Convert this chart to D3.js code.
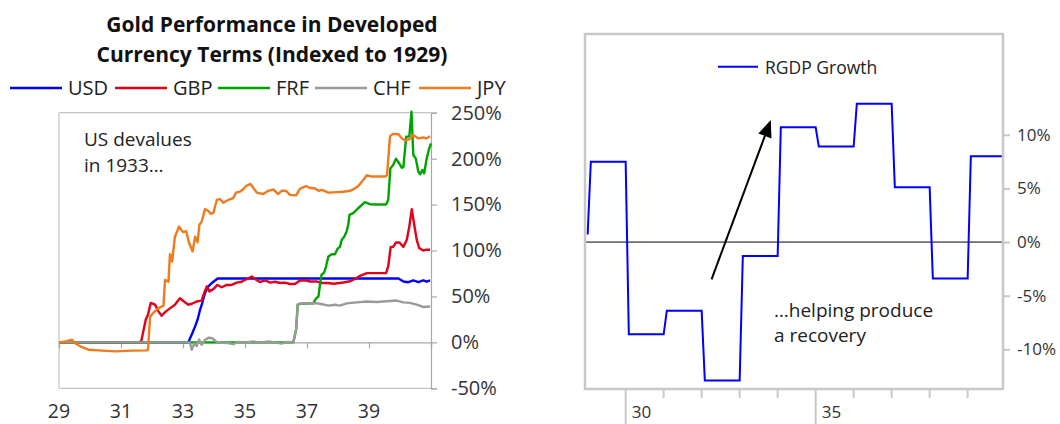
<!DOCTYPE html>
<html>
<head>
<meta charset="utf-8">
<script src="https://cdn.jsdelivr.net/npm/d3@7"></script>
<style>
  body { margin: 0; background: #fff; }
  svg { display: block; font-family: "Open Sans", sans-serif; }
</style>
</head>
<body>
<svg id="chart" width="1060" height="424"></svg>
<script>
// ---------- Gold priced in each currency, % change vs 1929 ([year, %]) ----------
const usd = [[1929.00,0],[1933.17,0],[1933.30,10],[1933.39,17.4],[1933.47,24.7],[1933.55,35.5],[1933.62,42.8],[1933.71,53.7],[1933.82,61],[1933.95,65.2],[1934.12,69.5],[1939.95,69.5],[1940.11,66.3],[1940.27,65.5],[1940.43,67.4],[1940.59,65.5],[1940.75,67.4],[1940.86,66],[1940.97,67.4]];

const gbp = [[1929.00,0],[1931.61,0],[1931.66,2],[1931.72,12],[1931.80,25],[1931.87,30],[1931.96,43],[1932.10,41],[1932.20,34],[1932.31,29],[1932.44,33.5],[1932.58,37],[1932.74,41],[1932.90,48],[1933.01,45],[1933.17,41],[1933.29,42],[1933.44,44.5],[1933.60,45.5],[1933.68,53.5],[1933.77,61],[1933.85,55.5],[1933.98,58],[1934.11,62.5],[1934.25,60],[1934.41,62.5],[1934.57,62.5],[1934.73,65],[1934.89,66],[1935.06,69],[1935.22,71.7],[1935.32,69],[1935.48,65.7],[1935.65,67.4],[1935.81,65],[1935.97,66],[1936.13,64.6],[1936.29,65],[1936.45,63.5],[1936.61,63.5],[1936.77,67.4],[1936.94,67.5],[1937.10,66.3],[1937.31,66.3],[1937.47,64.6],[1937.69,64.6],[1937.85,63.8],[1938.17,65.2],[1938.39,66.5],[1938.55,69],[1938.71,72.5],[1938.93,75.4],[1939.25,75.4],[1939.55,75.4],[1939.62,82.6],[1939.70,104],[1939.78,104],[1939.87,108.7],[1939.98,108.7],[1940.11,104],[1940.22,111.6],[1940.30,126],[1940.38,145],[1940.45,130],[1940.54,111.6],[1940.62,102.6],[1940.75,100],[1940.86,101],[1940.97,100.8]];

const frf = [[1929.00,0],[1936.56,0],[1936.65,14],[1936.70,41],[1936.77,42],[1937.20,42.5],[1937.29,47.5],[1937.37,50],[1937.42,63],[1937.47,73.6],[1937.55,76],[1937.61,82],[1937.69,93.5],[1937.80,96],[1937.90,96],[1937.99,102],[1938.06,104],[1938.12,111.6],[1938.20,115],[1938.28,121],[1938.33,128],[1938.37,138.8],[1938.49,140.6],[1938.65,146],[1938.87,152.6],[1939.03,150.4],[1939.29,150],[1939.55,150],[1939.62,155],[1939.69,189.6],[1939.78,193],[1939.87,200],[1939.97,195],[1940.06,190],[1940.11,191],[1940.20,224],[1940.30,224],[1940.37,251],[1940.43,204],[1940.51,200],[1940.59,186],[1940.65,183],[1940.72,187.7],[1940.78,184],[1940.86,200],[1940.94,211],[1941.00,216.7]];

const chf = [[1929.00,0],[1933.16,0],[1933.23,-1],[1933.28,-8],[1933.37,-1],[1933.44,-4],[1933.52,3],[1933.60,-2.5],[1933.71,2.5],[1933.82,5],[1933.94,4.5],[1934.09,0.5],[1934.26,-0.5],[1934.46,-0.7],[1934.62,-2],[1934.77,0.5],[1935.00,0],[1935.27,1],[1935.48,-0.5],[1935.75,1],[1935.97,0],[1936.18,-1.4],[1936.35,0.5],[1936.56,0],[1936.65,14],[1936.70,41],[1936.77,42],[1937.20,42.8],[1937.42,42],[1937.69,40],[1937.90,41],[1938.06,40],[1938.28,42.5],[1938.60,43.5],[1938.93,44.5],[1939.25,44],[1939.57,44.8],[1939.89,45.5],[1940.11,43.5],[1940.32,43],[1940.54,41],[1940.75,38.5],[1940.97,39]];

const jpy = [[1929.00,0],[1929.23,1],[1929.41,3],[1929.54,-1.5],[1929.73,-5],[1929.95,-8],[1930.27,-8.7],[1930.81,-9.8],[1931.35,-9],[1931.83,-8.7],[1931.87,-8],[1931.94,28],[1932.04,32],[1932.20,37],[1932.37,40],[1932.42,68],[1932.53,66],[1932.58,96],[1932.65,88],[1932.74,115],[1932.87,126],[1933.00,120],[1933.10,121],[1933.20,108],[1933.31,99],[1933.39,115],[1933.47,109],[1933.53,128],[1933.60,131],[1933.71,145],[1933.82,143],[1933.89,140],[1933.98,141],[1934.09,155],[1934.19,156],[1934.30,152],[1934.46,155],[1934.62,157],[1934.71,163],[1934.84,164],[1934.95,167],[1935.03,170],[1935.18,172.5],[1935.27,168],[1935.38,163],[1935.59,161.5],[1935.75,165],[1935.91,166.5],[1936.07,161.5],[1936.18,165],[1936.32,165],[1936.45,160.5],[1936.65,160],[1936.77,167],[1936.97,170],[1937.10,168],[1937.26,167.5],[1937.37,165],[1937.48,166],[1937.69,163],[1937.96,163.5],[1938.17,164],[1938.39,165],[1938.49,166.5],[1938.65,170],[1938.82,177],[1938.93,182],[1939.09,180.5],[1939.52,180.5],[1939.58,182],[1939.68,224.5],[1939.78,227],[1939.95,226.5],[1940.06,222],[1940.16,220],[1940.30,221],[1940.43,225.8],[1940.59,222],[1940.75,223],[1940.86,222],[1940.97,224.5]];

const currencyNames = ["USD", "GBP", "FRF", "CHF", "JPY"];
const currencyColors = ["#0000ff", "#e2001a", "#00a300", "#9a9a9a", "#f07a1e"];
const currencySeries = [usd, gbp, frf, chf, jpy];

const goldYTicks = [-50, 0, 50, 100, 150, 200, 250];
const goldXTicks = [1929, 1931, 1933, 1935, 1937, 1939];

// ---------- US real GDP growth, % per calendar year ----------
const gdpYears  = [1928, 1929, 1930, 1931, 1932, 1933, 1934, 1935, 1936, 1937, 1938, 1939];
const gdpGrowth = [0.7, 7.5, -8.6, -6.4, -12.9, -1.3, 10.7, 8.9, 12.9, 5.1, -3.4, 8.0];
const gdpYTicks = [-10, -5, 0, 5, 10];
const gdpXTicks = [1930, 1931, 1932, 1933, 1934, 1935, 1936, 1937, 1938, 1939];
const gdpXLabels = [1930, 1935];

const svg = d3.select("#chart");
svg.append("rect").attr("width", 1060).attr("height", 424).attr("fill", "#fff");

// ================= Left panel: gold in currencies =================
const L = { left: 59, right: 431, top: 112.7, bottom: 388.3 };
const x1 = d3.scaleLinear().domain([1929, 1941]).range([L.left, L.right]);
const y1 = d3.scaleLinear().domain([-50, 250]).range([L.bottom, L.top]);

const title = svg.append("text")
  .attr("text-anchor", "middle").attr("font-weight", 700).attr("font-size", 21)
  .attr("fill", "#111");
title.append("tspan").attr("x", 272).attr("y", 32).text("Gold Performance in Developed");
title.append("tspan").attr("x", 272).attr("y", 62).text("Currency Terms (Indexed to 1929)");

// legend row
const legendX = [10, 115, 218, 315, 419];
currencyNames.forEach((name, i) => {
  const g = svg.append("g").attr("transform", `translate(${legendX[i]},88)`);
  g.append("line").attr("x1", 0).attr("x2", 52).attr("stroke", currencyColors[i]).attr("stroke-width", 2.5);
  g.append("text").attr("x", 58).attr("y", 7).attr("font-size", 20).attr("fill", "#222").text(name);
});

// frame
const frame = svg.append("g").attr("stroke", "#c4c4c4").attr("stroke-width", 1.2).attr("fill", "none");
frame.append("line").attr("x1", L.left).attr("x2", L.right).attr("y1", L.top).attr("y2", L.top);
frame.append("line").attr("x1", L.left).attr("x2", L.left).attr("y1", L.top).attr("y2", L.bottom);
frame.append("line").attr("x1", L.left).attr("x2", L.right).attr("y1", L.bottom).attr("y2", L.bottom);

// right-hand value axis
const yAxisL = svg.append("g").attr("transform", `translate(${L.right},0)`)
  .call(d3.axisRight(y1).tickValues(goldYTicks).tickSize(6).tickPadding(14).tickFormat(d => d + "%"));
yAxisL.select(".domain").attr("stroke", "#a8a8a8").attr("stroke-width", 1.2);
yAxisL.selectAll(".tick line").attr("stroke", "#a8a8a8").attr("stroke-width", 1.2);
yAxisL.selectAll(".tick text").attr("font-size", 20).attr("fill", "#333")
  .attr("font-family", "Open Sans, sans-serif");

// category axis sitting at 0% with labels below the frame
const xAxisL = svg.append("g").attr("transform", `translate(0,${y1(0)})`)
  .call(d3.axisBottom(x1).tickValues(goldXTicks.concat([1941])).tickSize(6).tickFormat(""));
xAxisL.select(".domain").attr("stroke", "#a8a8a8").attr("stroke-width", 1.2);
xAxisL.selectAll(".tick line").attr("stroke", "#a8a8a8").attr("stroke-width", 1.2);

svg.append("g").selectAll("text").data(goldXTicks).join("text")
  .attr("x", d => x1(d)).attr("y", 418).attr("text-anchor", "middle")
  .attr("font-size", 19.5).attr("fill", "#333")
  .text(d => String(d).slice(2));

// series lines
const lineL = d3.line().x(d => x1(d[0])).y(d => y1(d[1]));
currencySeries.forEach((s, i) => {
  svg.append("path").datum(s).attr("d", lineL)
    .attr("fill", "none").attr("stroke", currencyColors[i])
    .attr("stroke-width", 2.4).attr("stroke-linejoin", "round");
});

const noteL = svg.append("text").attr("font-size", 19).attr("fill", "#222");
noteL.append("tspan").attr("x", 84).attr("y", 145.5).text("US devalues");
noteL.append("tspan").attr("x", 84).attr("y", 171.5).text("in 1933\u2026");

// ================= Right panel: real GDP growth =================
const R = { left: 585, right: 1003, top: 34, bottom: 389 };
const x2 = d3.scaleLinear().domain([1928.93, 1939.93]).range([R.left, R.right]);
const y2 = d3.scaleLinear().domain([-13.7, 19.4]).range([R.bottom, R.top]);

svg.append("defs").append("clipPath").attr("id", "gdpClip")
  .append("rect").attr("x", R.left).attr("y", R.top)
  .attr("width", R.right - R.left).attr("height", R.bottom - R.top);

// zero line
svg.append("line").attr("x1", R.left).attr("x2", R.right)
  .attr("y1", y2(0)).attr("y2", y2(0)).attr("stroke", "#000").attr("stroke-width", 1);

// each annual value held from the end of January through year end
const gdpSteps = [];
gdpYears.forEach((yr, i) => {
  gdpSteps.push([yr + 1 / 12, gdpGrowth[i]]);
  gdpSteps.push([yr + 1, gdpGrowth[i]]);
});
const gdpPts = gdpSteps.filter(d => d[0] >= x2.domain()[0]);
svg.append("path").datum(gdpPts)
  .attr("clip-path", "url(#gdpClip)")
  .attr("d", d3.line().x(d => x2(d[0])).y(d => y2(d[1])))
  .attr("fill", "none").attr("stroke", "#0000ff").attr("stroke-width", 2);

// frame
svg.append("rect").attr("x", R.left).attr("y", R.top)
  .attr("width", R.right - R.left).attr("height", R.bottom - R.top)
  .attr("fill", "none").attr("stroke", "#c8c8c8").attr("stroke-width", 2.5);

// value axis on the right
const yAxisR = svg.append("g").attr("transform", `translate(${R.right},0)`)
  .call(d3.axisRight(y2).tickValues(gdpYTicks).tickSize(7).tickPadding(7).tickFormat(d => d + "%"));
yAxisR.select(".domain").remove();
yAxisR.selectAll(".tick line").attr("stroke", "#c8c8c8").attr("stroke-width", 2);
yAxisR.selectAll(".tick text").attr("font-size", 17).attr("fill", "#333")
  .attr("font-family", "Open Sans, sans-serif");

// year ticks below the frame; labelled years get a long tick
svg.append("g").selectAll("line").data(gdpXTicks).join("line")
  .attr("x1", d => x2(d)).attr("x2", d => x2(d))
  .attr("y1", R.bottom)
  .attr("y2", d => gdpXLabels.includes(d) ? 424 : R.bottom + 9)
  .attr("stroke", "#c8c8c8").attr("stroke-width", 2);
svg.append("g").selectAll("text").data(gdpXLabels).join("text")
  .attr("x", d => x2(d) + 6).attr("y", 418)
  .attr("font-size", 17).attr("fill", "#333")
  .text(d => String(d).slice(2));

// legend
svg.append("line").attr("x1", 718).attr("x2", 758).attr("y1", 66.7).attr("y2", 66.7)
  .attr("stroke", "#0000ff").attr("stroke-width", 2);
svg.append("text").attr("x", 765).attr("y", 74).attr("font-size", 17.5).attr("fill", "#222")
  .text("RGDP Growth");

// arrow annotation
const arrowFrom = [1932.26, -3.47], arrowTo = [1933.82, 11.38];
const ax0 = x2(arrowFrom[0]), ay0 = y2(arrowFrom[1]);
const ax1 = x2(arrowTo[0]), ay1 = y2(arrowTo[1]);
const ang = Math.atan2(ay1 - ay0, ax1 - ax0);
const headLen = 17, headHalf = 7;
const bx = ax1 - headLen * Math.cos(ang), by = ay1 - headLen * Math.sin(ang);
svg.append("line").attr("x1", ax0).attr("y1", ay0).attr("x2", bx).attr("y2", by)
  .attr("stroke", "#000").attr("stroke-width", 2);
svg.append("polygon")
  .attr("points", [
    [ax1, ay1],
    [bx + headHalf * Math.sin(ang), by - headHalf * Math.cos(ang)],
    [bx - headHalf * Math.sin(ang), by + headHalf * Math.cos(ang)]
  ].map(p => p.join(",")).join(" "))
  .attr("fill", "#000");

const noteR = svg.append("text").attr("font-size", 19).attr("fill", "#222");
noteR.append("tspan").attr("x", 774).attr("y", 316.5).text("\u2026helping produce");
noteR.append("tspan").attr("x", 774).attr("y", 341.5).text("a recovery");
</script>
</body>
</html>
